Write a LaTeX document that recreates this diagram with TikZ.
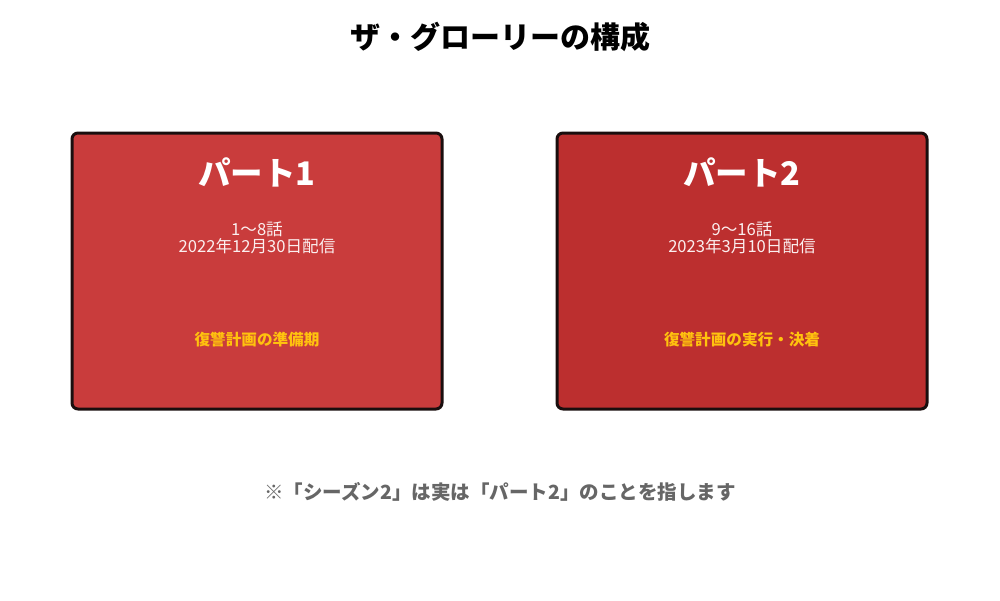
\documentclass[tikz,border=0pt]{standalone}
\usepackage{fontspec}
\setmainfont{Noto Sans CJK JP}
\definecolor{partone}{HTML}{C93C3C}
\definecolor{parttwo}{HTML}{BC2F2F}
\definecolor{edge}{HTML}{1A0E0E}
\definecolor{theme}{HTML}{FFC20E}
\definecolor{note}{HTML}{666666}
\tikzset{
  partbox/.style={draw=edge, line width=3pt, rounded corners=6pt,
    minimum width=370pt, minimum height=276pt},
  heading/.style={text=white, font=\bfseries\fontsize{32.5}{38}\selectfont},
  info/.style={text=white!92!partone, align=center,
    font=\fontsize{16.6}{17}\selectfont},
  themetext/.style={text=theme, font=\bfseries\fontsize{15.6}{20}\selectfont}
}
\begin{document}
\begin{tikzpicture}[x=1pt, y=-1pt]
    \useasboundingbox[fill=white] (0,0) rectangle (1000,600);
    \node (title) at (500,37) [font=\bfseries\fontsize{30}{36}\selectfont] {ザ・グローリーの構成};
    % part 1
    \node (p1) at (257,271) [partbox, fill=partone] {};
    \node (p1name) at (257,172) [heading] {パート1};
    \node (p1info) at (257,238) [info] {1〜8話\\2022年12月30日配信};
    \node (p1theme) at (257,340) [themetext] {復讐計画の準備期};
    % part 2
    \node (p2) at (742,271) [partbox, fill=parttwo] {};
    \node (p2name) at (742,172) [heading] {パート2};
    \node (p2info) at (742,238) [info] {9〜16話\\2023年3月10日配信};
    \node (p2theme) at (742,340) [themetext] {復讐計画の実行・決着};
    \node (footnote) at (500,492) [text=note, font=\bfseries\fontsize{19.5}{22}\selectfont]
      {※「シーズン2」は実は「パート2」のことを指します};
\end{tikzpicture}
\end{document}
